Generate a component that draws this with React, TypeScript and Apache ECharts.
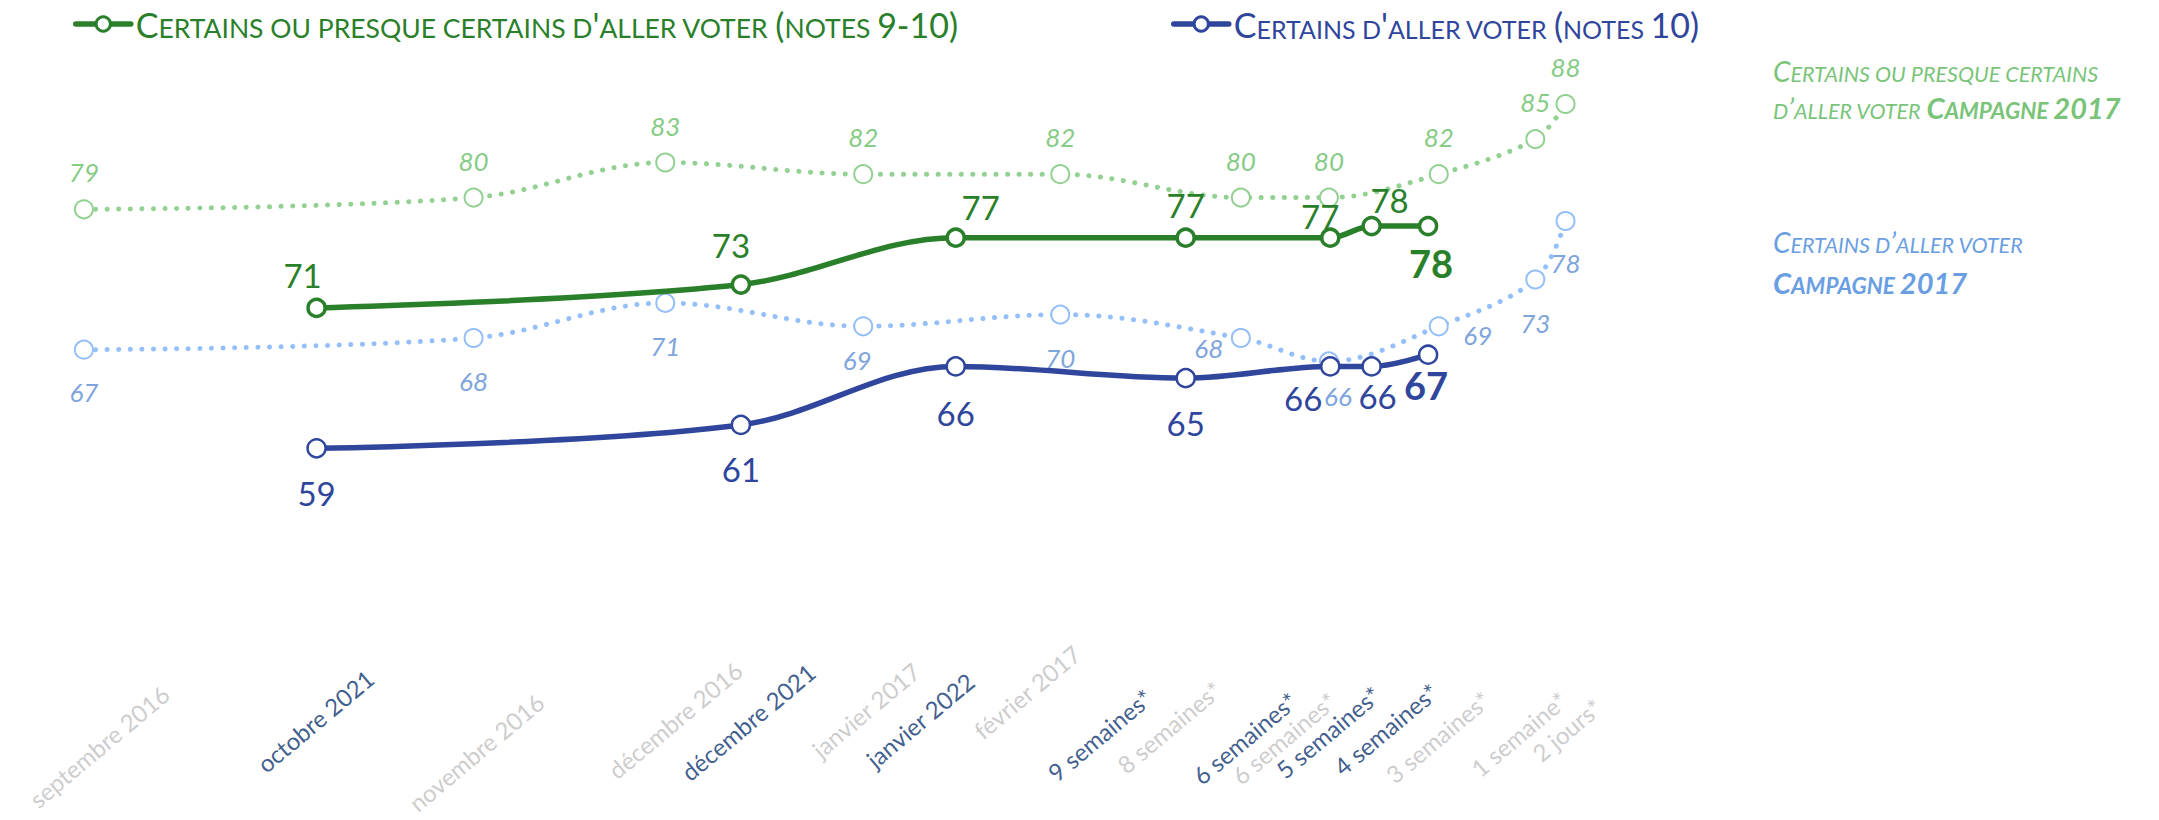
import { useEffect, useRef } from "react";
import * as echarts from "echarts";

const FONT = "Lato, 'Open Sans', sans-serif";

// ---- data ----
const ticks2017 = ["septembre 2016", "novembre 2016", "décembre 2016", "janvier 2017", "février 2017", "8 semaines*", "6 semaines*", "3 semaines*", "1 semaine*", "2 jours*"];
const weeks2017 = [33.59, 24.83, 20.52, 16.07, 11.64, 7.58, 5.6, 3.13, 0.96, 0.28];
const presque2017 = [79, 80, 83, 82, 82, 80, 80, 82, 85, 88];
const certains2017 = [67, 68, 71, 69, 70, 68, 66, 69, 73, 78];

const ticks2022 = ["octobre 2021", "décembre 2021", "janvier 2022", "9 semaines*", "6 semaines*", "5 semaines*", "4 semaines*"];
const weeks2022 = [28.36, 18.82, 13.99, 8.82, 5.57, 4.64, 3.37];
const presque2022 = [71, 73, 77, 77, 77, 78, 78];
const certains2022 = [59, 61, 66, 65, 66, 66, 67];

const nameP22 = "Certains ou presque certains d'aller voter (notes 9-10)";
const nameC22 = "Certains d'aller voter (notes 10)";
const nameP17 = "Certains ou presque certains d’aller voter Campagne 2017";
const nameC17 = "Certains d’aller voter Campagne 2017";

// ---- layout (label placement) ----
const tickPos2017 = [[33.25, 33.1], [24.77, 32.6], [20.3, 35.35], [16.01, 36.2], [12.39, 37.74], [9.19, 34.75], [6.61, 33.81], [3.15, 33.9], [1.33, 34.15], [0.25, 34.5]];
const tickPos2022 = [[28.39, 35.27], [18.66, 35.18], [14.79, 35.35], [10.75, 34.07], [7.49, 33.81], [5.62, 34.32], [4.32, 34.57]];
const offP17 = presque2017.map(() => [0, -37]);
const offC17 = [[0, 42], [0, 43], [0, 43], [-6, 34], [0, 43], [-32, 10], [9, 35], [39, 9], [0, 43], [0, 42]];
const offP22 = [[-14, -33], [-10, -40], [25, -31], [0, -33], [-10, -22], [18, -26], [3, 37]];
const offC22 = [[0, 45], [0, 44], [0, 47], [0, 45], [-27, 32], [6, 30], [-2, 30]];

const C_LG = "#93d193";
const C_LG_T = "#86cc86";
const C_LB = "#94bff8";
const C_LB_T = "#7fa5dd";
const C_DG = "#2a7f2a";
const C_DB = "#2f469c";
const C_ANN_G = "#79c479";
const C_ANN_B = "#6a9ee2";

function smallCaps(text: string, big: string, small: string) {
  let out = "";
  let cur: string | null = null;
  let buf = "";
  for (const ch of text) {
    const isSmall = ch === " " || ch !== ch.toUpperCase();
    const k = isSmall ? small : big;
    if (cur !== null && k !== cur && buf) {
      out += `{${cur}|${buf}}`;
      buf = "";
    }
    cur = k;
    buf += ch.toUpperCase();
  }
  if (buf && cur) out += `{${cur}|${buf}}`;
  return out;
}

function pts(weeks: number[], vals: number[], offs: number[][], boldLast: boolean) {
  return weeks.map((w, i) => ({
    value: [w, vals[i]],
    label: {
      offset: offs[i],
      ...(boldLast && i === weeks.length - 1 ? { fontWeight: "bold", fontSize: 38 } : {}),
    },
  }));
}

const baseLabel = {
  show: true,
  position: "inside",
  align: "center",
  verticalAlign: "middle",
  fontFamily: FONT,
  formatter: (p: any) => String(p.value[1]),
};

export default function App() {
  const ref = useRef<HTMLDivElement>(null);
  useEffect(() => {
    if (!ref.current) return;
    const chart = echarts.init(ref.current, null, { renderer: "svg" });
    const legendRich = (color: string, bigSize: number, smallSize: number) => ({
      b: { fontSize: bigSize, fontFamily: FONT, color, verticalAlign: "bottom" },
      s: { fontSize: smallSize, fontFamily: FONT, color, verticalAlign: "bottom" },
    });
    const annRich = (fill: string, bigSize: number, smallSize: number) => ({
      b: { fontSize: bigSize, fontFamily: FONT, fill, verticalAlign: "bottom", fontStyle: "italic" },
      s: { fontSize: smallSize, fontFamily: FONT, fill, verticalAlign: "bottom", fontStyle: "italic" },
      bb: { fontSize: bigSize + 1, fontFamily: FONT, fill, verticalAlign: "bottom", fontStyle: "italic", fontWeight: "bold" },
      sb: { fontSize: smallSize + 1, fontFamily: FONT, fill, verticalAlign: "bottom", fontStyle: "italic", fontWeight: "bold" },
    });
    const tickSeries = (name: string, ticks: string[], pos: number[][], color: string) => ({
      type: "scatter",
      name,
      xAxisIndex: 0,
      yAxisIndex: 0,
      symbolSize: 1,
      silent: true,
      itemStyle: { color: "rgba(0,0,0,0)" },
      label: {
        show: true,
        position: "inside",
        rotate: 40,
        align: "center",
        verticalAlign: "middle",
        color,
        fontSize: 24,
        fontFamily: FONT,
        formatter: (p: any) => p.name,
      },
      z: 1,
      data: ticks.map((t, i) => ({ name: t, value: pos[i] })),
    });
    const legendBase = {
      top: 2,
      itemWidth: 55,
      itemHeight: 18,
      selectedMode: false,
      lineStyle: { width: 5.5, cap: "round" },
      itemStyle: { borderWidth: 3 },
      formatter: (n: string) => smallCaps(n, "b", "s"),
    };

    chart.setOption({
      animation: false,
      backgroundColor: "#fff",
      grid: { left: 21.2, right: 581, top: 80.6, bottom: 37.4 },
      xAxis: { type: "value", min: 0, max: 35, inverse: true, show: false },
      yAxis: [
        { type: "value", min: 30, max: 90, show: false },
        { type: "value", min: 30.43, max: 90.43, show: false },
      ],
      legend: [
        {
          ...legendBase,
          data: [nameP22],
          left: 68,
          textStyle: { color: C_DG, rich: legendRich(C_DG, 34, 26.5) },
        },
        {
          ...legendBase,
          data: [nameC22],
          left: 1166,
          textStyle: { color: C_DB, rich: legendRich(C_DB, 34, 25) },
        },
      ],
      graphic: [
        { type: "text", left: 1773, top: 57, style: { text: smallCaps("Certains ou presque certains", "b", "s"), rich: annRich(C_ANN_G, 28, 21.5) } },
        { type: "text", left: 1773, top: 93, style: { text: smallCaps("d’aller voter ", "b", "s") + smallCaps("Campagne 2017", "bb", "sb"), rich: annRich(C_ANN_G, 28, 21.5) } },
        { type: "text", left: 1773, top: 228, style: { text: smallCaps("Certains d’aller voter", "b", "s"), rich: annRich(C_ANN_B, 28, 21.5) } },
        { type: "text", left: 1773, top: 268, style: { text: smallCaps("Campagne 2017", "bb", "sb"), rich: annRich(C_ANN_B, 28, 21.5) } },
      ],
      series: [
        tickSeries("ticks2017", ticks2017, tickPos2017, "#bfbfbf"),
        tickSeries("ticks2022", ticks2022, tickPos2022, "#0e3470"),
        {
          type: "line",
          name: nameP17,
          smooth: 0.35,
          yAxisIndex: 0,
          symbol: "circle",
          symbolSize: 18,
          itemStyle: { color: "#fff", borderColor: C_LG, borderWidth: 2 },
          lineStyle: { color: C_LG, width: 5, type: [0.1, 11.5], cap: "round" },
          label: { ...baseLabel, color: C_LG_T, fontSize: 26, fontStyle: "italic" },
          emphasis: { disabled: true },
          z: 2,
          data: pts(weeks2017, presque2017, offP17, false),
        },
        {
          type: "line",
          name: nameC17,
          smooth: 0.35,
          yAxisIndex: 0,
          symbol: "circle",
          symbolSize: 18,
          itemStyle: { color: "#fff", borderColor: C_LB, borderWidth: 2 },
          lineStyle: { color: C_LB, width: 5, type: [0.1, 11.5], cap: "round" },
          label: { ...baseLabel, color: C_LB_T, fontSize: 26, fontStyle: "italic" },
          emphasis: { disabled: true },
          z: 2,
          data: pts(weeks2017, certains2017, offC17, false),
        },
        {
          type: "line",
          name: nameP22,
          smooth: 0.35,
          yAxisIndex: 1,
          symbol: "circle",
          symbolSize: 17,
          itemStyle: { color: "#fff", borderColor: C_DG, borderWidth: 3.5 },
          lineStyle: { color: C_DG, width: 5.5 },
          label: { ...baseLabel, color: C_DG, fontSize: 33 },
          emphasis: { disabled: true },
          z: 4,
          data: pts(weeks2022, presque2022, offP22, true),
        },
        {
          type: "line",
          name: nameC22,
          smooth: 0.35,
          yAxisIndex: 1,
          symbol: "circle",
          symbolSize: 18,
          itemStyle: { color: "#fff", borderColor: C_DB, borderWidth: 2.5 },
          lineStyle: { color: C_DB, width: 5.5 },
          label: { ...baseLabel, color: C_DB, fontSize: 33 },
          emphasis: { disabled: true },
          z: 4,
          data: pts(weeks2022, certains2022, offC22, true),
        },
      ],
    });
    return () => chart.dispose();
  }, []);
  return <div ref={ref} style={{ position: "absolute", left: 0, top: 0, width: 2159, height: 820 }} />;
}
